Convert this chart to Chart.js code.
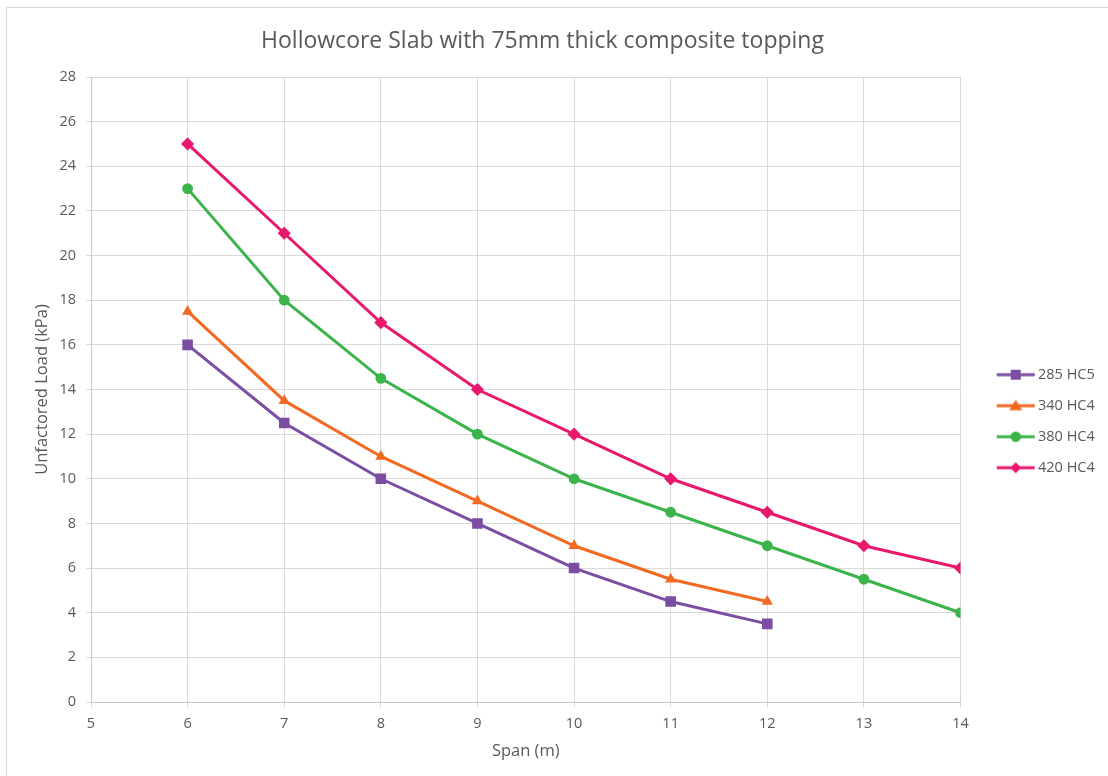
<!DOCTYPE html>
<html>
<head>
<meta charset="utf-8">
<script src="https://cdn.jsdelivr.net/npm/chart.js@4"></script>
<style>
  html, body { margin: 0; padding: 0; background: #ffffff; }
  #wrap { position: relative; width: 1108px; height: 776px; overflow: hidden; }
  #frame { position: absolute; left: 6px; top: 7px; width: 1120px; height: 800px;
           border-left: 1px solid #d9d9d9; border-top: 1px solid #d9d9d9; }
  canvas { position: absolute; left: 0; top: 0; }
</style>
</head>
<body>
<div id="wrap">
  <div id="frame"></div>
  <canvas id="c" width="1108" height="776"></canvas>
</div>
<script>
const spans = [6, 7, 8, 9, 10, 11, 12, 13, 14];
const seriesNames = ['285 HC5', '340 HC4', '380 HC4', '420 HC4'];
const hc285 = [16, 12.5, 10, 8, 6, 4.5, 3.5];
const hc340 = [17.5, 13.5, 11, 9, 7, 5.5, 4.5];
const hc380 = [23, 18, 14.5, 12, 10, 8.5, 7, 5.5, 4];
const hc420 = [25, 21, 17, 14, 12, 10, 8.5, 7, 6];
const xTicks = [5, 6, 7, 8, 9, 10, 11, 12, 13, 14];
const yTicks = [0, 2, 4, 6, 8, 10, 12, 14, 16, 18, 20, 22, 24, 26, 28];

const colors = ['#7b4ea3', '#f26a21', '#3bb44a', '#e8196d'];
const styles = ['rect', 'triangle', 'circle', 'rectRot'];
const radii = [7.5, 6.5, 5.4, 6.6];
const values = [hc285, hc340, hc380, hc420];

function legendIcon(color, style) {
  const cv = document.createElement('canvas');
  cv.width = 44; cv.height = 14;
  const g = cv.getContext('2d');
  g.strokeStyle = color; g.lineWidth = 3;
  g.beginPath(); g.moveTo(5, 7); g.lineTo(43, 7); g.stroke();
  g.fillStyle = color;
  g.beginPath();
  const cx = 24, cy = 7;
  if (style === 'rect') { g.rect(cx - 5, cy - 5, 10, 10); }
  else if (style === 'triangle') { g.moveTo(cx, cy - 6); g.lineTo(cx + 6.5, cy + 4.5); g.lineTo(cx - 6.5, cy + 4.5); g.closePath(); }
  else if (style === 'circle') { g.arc(cx, cy, 5.2, 0, Math.PI * 2); }
  else { g.moveTo(cx, cy - 5.5); g.lineTo(cx + 5.5, cy); g.lineTo(cx, cy + 5.5); g.lineTo(cx - 5.5, cy); g.closePath(); }
  g.fill();
  return cv;
}
const icons = colors.map((c, i) => legendIcon(c, styles[i]));

const datasets = seriesNames.map((name, i) => ({
  label: name,
  data: values[i].map((v, j) => ({ x: spans[j], y: v })),
  borderColor: colors[i],
  backgroundColor: colors[i],
  borderWidth: 3,
  pointStyle: styles[i],
  pointRadius: radii[i],
  pointHoverRadius: radii[i],
  pointBorderWidth: 0,
  tension: 0,
  fill: false
}));

const fontFam = "'Open Sans', 'Liberation Sans', sans-serif";
const textCol = '#595959';
const LEG_PAD = 16.5;
const BOX_W = 34;

const legendMover = {
  id: 'legendMover',
  afterLayout(chart) {
    const lg = chart.legend;
    if (!lg) return;
    const w = lg.width, h = lg.height;
    lg.left = 996.75 - LEG_PAD;
    lg.right = lg.left + w;
    lg.top = 351;
    lg.bottom = lg.top + h;
  }
};

new Chart(document.getElementById('c'), {
  type: 'line',
  data: { datasets },
  plugins: [legendMover],
  options: {
    responsive: false,
    animation: false,
    devicePixelRatio: 1,
    layout: { padding: { left: 0, right: 23, top: 0, bottom: 0 } },
    plugins: {
      title: {
        display: true,
        text: 'Hollowcore Slab with 75mm thick composite topping',
        color: textCol,
        font: { family: fontFam, size: 23, weight: 'normal' },
        padding: { top: 27.2, bottom: 22.2 }
      },
      legend: {
        position: 'right',
        align: 'start',
        labels: {
          usePointStyle: true,
          pointStyleWidth: BOX_W,
          color: textCol,
          font: { family: fontFam, size: 14.5 },
          padding: LEG_PAD,
          generateLabels: (chart) => chart.data.datasets.map((ds, i) => ({
            text: ds.label,
            pointStyle: icons[i],
            fillStyle: ds.borderColor,
            strokeStyle: ds.borderColor,
            lineWidth: 0,
            hidden: false,
            datasetIndex: i,
            fontColor: textCol
          }))
        }
      },
      tooltip: { enabled: false }
    },
    scales: {
      x: {
        type: 'linear',
        min: 5, max: 14,
        afterBuildTicks: (s) => { s.ticks = xTicks.map(v => ({ value: v })); },
        afterFit: (s) => { s.height = 74; },
        grid: { color: '#d9d9d9', lineWidth: 1, tickLength: 5, drawTicks: true },
        border: { color: '#c8c8c8', width: 1 },
        ticks: { color: textCol, font: { family: fontFam, size: 14.5 }, padding: 8.3, maxRotation: 0 },
        title: { display: true, text: 'Span (m)', color: textCol, font: { family: fontFam, size: 16.5 }, padding: { top: 4, bottom: 15.1 } }
      },
      y: {
        type: 'linear',
        min: 0, max: 28,
        afterBuildTicks: (s) => { s.ticks = yTicks.map(v => ({ value: v })); },
        afterFit: (s) => { s.width = 91; },
        grid: { color: '#d9d9d9', lineWidth: 1, tickLength: 5, drawTicks: true },
        border: { color: '#c8c8c8', width: 1 },
        ticks: { color: textCol, font: { family: fontFam, size: 14.5 }, padding: 10 },
        title: { display: true, text: 'Unfactored Load (kPa)', color: textCol, font: { family: fontFam, size: 16.5 }, padding: { top: 32.1, bottom: 4 } }
      }
    }
  }
});
</script>
</body>
</html>
